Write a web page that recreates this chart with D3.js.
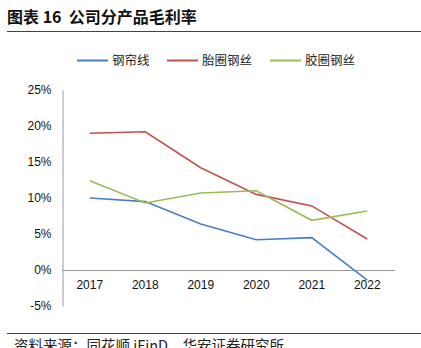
<!DOCTYPE html>
<html><head><meta charset="utf-8">
<script src="https://cdn.jsdelivr.net/npm/d3@7"></script>
<style>body{margin:0;background:#fff;} svg{display:block;}</style>
</head><body>
<script>
const years = ["2017","2018","2019","2020","2021","2022"];
const seriesNames = ["钢帘线","胎圈钢丝","胶圈钢丝"];
const steelCord = [10.0, 9.5, 6.4, 4.2, 4.5, -1.4];
const beadWire = [19.0, 19.2, 14.2, 10.5, 8.9, 4.3];
const hoseWire = [12.4, 9.3, 10.7, 11.0, 6.9, 8.2];
const yTicks = [-5, 0, 5, 10, 15, 20, 25];
const colors = ["#4a7ec4", "#c3504d", "#9bbb59"];

const W = 421, H = 348;
const svg = d3.select("body").append("svg").attr("width", W).attr("height", H);
const font = "'Liberation Sans', Arial, 'Noto Sans CJK SC', sans-serif";

svg.append("text").attr("x", 7).attr("y", 23).attr("font-family", "'Noto Sans CJK SC', sans-serif")
  .attr("font-weight", "bold").attr("font-size", 16).attr("fill", "#111")
  .attr("xml:space", "preserve").text("图表 16  公司分产品毛利率");
svg.append("line").attr("x1", 7).attr("x2", 421).attr("y1", 31.5).attr("y2", 31.5).attr("stroke", "#444").attr("stroke-width", 1);
svg.append("line").attr("x1", 7).attr("x2", 421).attr("y1", 333.5).attr("y2", 333.5).attr("stroke", "#444").attr("stroke-width", 1);
svg.append("text").attr("x", 14).attr("y", 351).attr("font-family", "'Noto Sans CJK SC', sans-serif")
  .attr("font-size", 14.5).attr("fill", "#222").text("资料来源：同花顺 iFinD，华安证券研究所");

const x = d3.scaleBand().domain(years).range([62, 395]);
const y = d3.scaleLinear().domain([-5, 25]).range([306, 90]);

// y axis
const yAxis = svg.append("g").attr("transform", "translate(62.5,0)")
  .call(d3.axisLeft(y).tickValues(yTicks).tickSize(0).tickPadding(11).tickFormat(d => d + "%"));
yAxis.select(".domain").attr("stroke", "#999");
yAxis.selectAll("text").attr("font-family", font).attr("font-size", 12).attr("fill", "#111");

// x axis at 0
const xAxis = svg.append("g").attr("transform", `translate(0,${Math.round(y(0)) + 0.5})`)
  .call(d3.axisBottom(x).tickSize(0).tickPadding(10));
xAxis.select(".domain").attr("stroke", "#999").attr("d", `M62,0H395`);
xAxis.selectAll("text").attr("font-family", font).attr("font-size", 12).attr("fill", "#111");

const line = d3.line().x((d, i) => x(years[i]) + x.bandwidth() / 2).y(d => y(d));
[steelCord, beadWire, hoseWire].forEach((s, i) => {
  svg.append("path").datum(s).attr("d", line).attr("fill", "none")
    .attr("stroke", colors[i]).attr("stroke-width", 1.6);
});

// legend
const legX = [77, 167, 270];
seriesNames.forEach((n, i) => {
  svg.append("line").attr("x1", legX[i]).attr("x2", legX[i] + 31).attr("y1", 60.5).attr("y2", 60.5)
    .attr("stroke", colors[i]).attr("stroke-width", 2);
  svg.append("text").attr("x", legX[i] + 35).attr("y", 65).attr("font-family", "'Noto Sans CJK SC', sans-serif")
    .attr("font-size", 12.5).attr("fill", "#222").text(n);
});
</script>
</body></html>
